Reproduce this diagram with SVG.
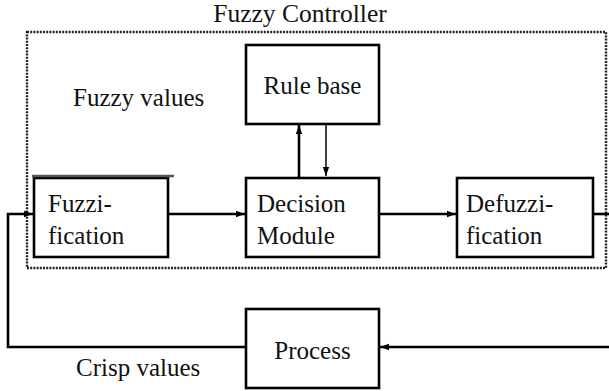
<svg xmlns="http://www.w3.org/2000/svg" width="609" height="391" viewBox="0 0 609 391">
<style>
.box{fill:#fff;stroke:#000;stroke-width:2.6}
.ln{fill:none;stroke:#000;stroke-width:2.6}
.thin{fill:none;stroke:#000;stroke-width:1.5}
.dot{fill:none;stroke:#222;stroke-width:2.4;stroke-dasharray:2 1.2}
</style>
<defs>
<marker id="ah" viewBox="0 0 10 10" refX="10" refY="5" markerWidth="9" markerHeight="9" markerUnits="userSpaceOnUse" orient="auto">
<path d="M0,1.5 L10,5 L0,8.5 Z" fill="#000"/>
</marker>
</defs>
<rect class="dot" x="27" y="32" width="579" height="236"/>
<g font-family="Liberation Serif, Tinos, DejaVu Serif, Noto Serif, Times New Roman, serif" font-size="25" fill="#111">
<text x="300" y="22" text-anchor="middle" font-size="25.5">Fuzzy Controller</text>
<text x="73" y="106">Fuzzy values</text>
<text x="76" y="376">Crisp values</text>
</g>
<g id="connectors">
<path class="ln" d="M168,214 H245" marker-end="url(#ah)"/>
<path class="ln" d="M379,214 H456" marker-end="url(#ah)"/>
<path class="ln" d="M593,214 H609"/>
<path class="ln" d="M299,177 V125" marker-end="url(#ah)"/>
<path class="thin" d="M326,124 V176" marker-end="url(#ah)"/>
<path class="ln" d="M609,347 H380" marker-end="url(#ah)"/>
<path class="ln" d="M246,347 H8 V214 H33" marker-end="url(#ah)"/>
</g>
<g font-family="Liberation Serif, Tinos, DejaVu Serif, Noto Serif, Times New Roman, serif" font-size="25" fill="#111">
<g id="rulebase">
<rect class="box" x="246" y="45" width="133" height="79"/>
<text x="312.5" y="94" text-anchor="middle">Rule base</text>
</g>
<g id="fuzzification">
<rect class="box" x="34" y="178" width="134" height="79"/>
<line x1="32" y1="176" x2="174" y2="176" stroke="#555" stroke-width="2.5"/>
<text x="48" y="212">Fuzzi-</text>
<text x="48" y="244">fication</text>
</g>
<g id="decision">
<rect class="box" x="246" y="178" width="133" height="79"/>
<text x="257" y="212">Decision</text>
<text x="257" y="244">Module</text>
</g>
<g id="defuzzification">
<rect class="box" x="457" y="178" width="136" height="79"/>
<text x="466" y="212">Defuzzi-</text>
<text x="466" y="244">fication</text>
</g>
<g id="process">
<rect class="box" x="246" y="309" width="133" height="79"/>
<text x="312.5" y="359" text-anchor="middle">Process</text>
</g>
</g>
</svg>
